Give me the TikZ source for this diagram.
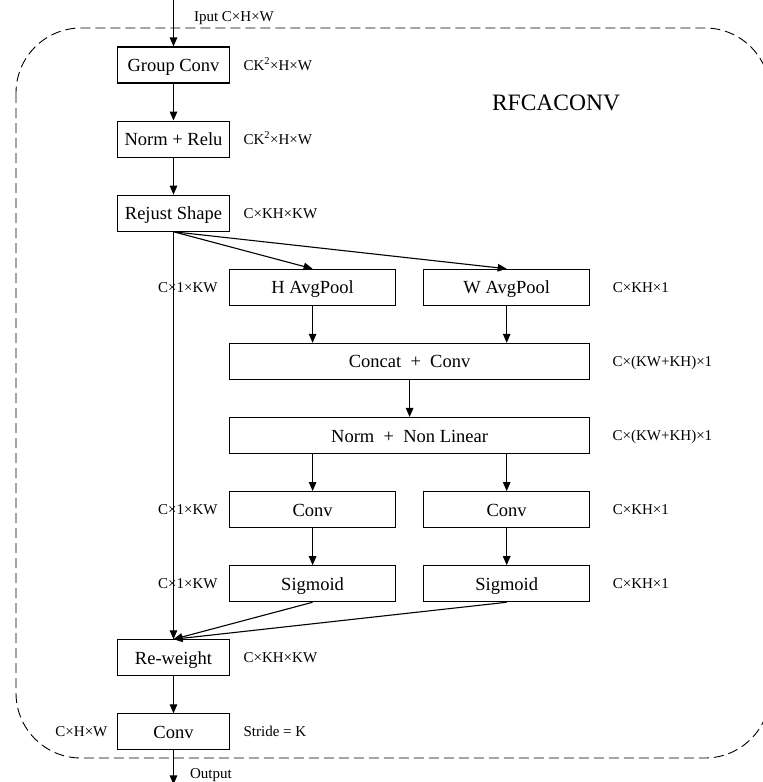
\documentclass[tikz,border=0pt]{standalone}
\usepackage{fontspec}
\setmainfont{Liberation Serif}
\usetikzlibrary{positioning,arrows.meta}

\begin{document}
\begin{tikzpicture}[
  x=1pt, y=-1pt,
  line width=1.1pt,
  >={Triangle[length=9pt,width=7.5pt]},
  box/.style={draw, minimum height=36pt, inner sep=2pt, text height=13pt, text depth=0pt, font=\fontsize{18.5}{20}\selectfont},
  mainbox/.style={box, minimum width=112pt},
  halfbox/.style={box, minimum width=166pt},
  widebox/.style={box, minimum width=360pt},
  dim/.style={inner sep=0pt, text height=10pt, text depth=0pt, font=\fontsize{15}{16}\selectfont}
]
  \useasboundingbox (0,0) rectangle (763,782);
  \draw[dash pattern=on 10pt off 5pt, line width=0.9pt, rounded corners=65pt] (16,28) rectangle (770,758);
  \node[font=\fontsize{23.5}{26}\selectfont] (title) at (556,103) {RFCACONV};

  % main column
  \node[mainbox] (gconv) at (173.5,65) {Group Conv};
  \node[mainbox, below=37pt of gconv] (nrelu) {Norm + Relu};
  \node[mainbox, below=37pt of nrelu] (rejust) {Rejust Shape};

  % attention branch
  \node[halfbox, below right=37pt and -1pt of rejust] (havg) {H AvgPool};
  \node[halfbox, right=27pt of havg] (wavg) {W AvgPool};
  \node[widebox, below=37pt of havg.south west, anchor=north west] (concat) {Concat\enspace+\enspace Conv};
  \node[widebox, below=37pt of concat] (nnl) {Norm\enspace+\enspace Non Linear};
  \node[halfbox, below=37pt of nnl.south west, anchor=north west] (convl) {Conv};
  \node[halfbox, right=27pt of convl] (convr) {Conv};
  \node[halfbox, below=37pt of convl] (sigl) {Sigmoid};
  \node[halfbox, below=37pt of convr] (sigr) {Sigmoid};

  \coordinate (rw) at (sigl.south -| rejust.south);
  \node[mainbox, below=37pt of rw] (reweight) {Re-weight};
  \node[mainbox, below=37pt of reweight] (oconv) {Conv};

  % sizes
  \node[dim, right=13pt of gconv] (dgconv) {CK\textsuperscript{2}×H×W};
  \node[dim, right=13pt of nrelu] (dnrelu) {CK\textsuperscript{2}×H×W};
  \node[dim, right=13pt of rejust] (drejust) {C×KH×KW};
  \node[dim, left=11pt of havg] (dhavg) {C×1×KW};
  \node[dim, right=22pt of wavg] (dwavg) {C×KH×1};
  \node[dim, right=22pt of concat] (dconcat) {C×(KW+KH)×1};
  \node[dim, right=22pt of nnl] (dnnl) {C×(KW+KH)×1};
  \node[dim, left=11pt of convl] (dconvl) {C×1×KW};
  \node[dim, right=22pt of convr] (dconvr) {C×KH×1};
  \node[dim, left=11pt of sigl] (dsigl) {C×1×KW};
  \node[dim, right=22pt of sigr] (dsigr) {C×KH×1};
  \node[dim, right=13pt of reweight] (dreweight) {C×KH×KW};
  \node[dim, left=9pt of oconv] (doconvl) {C×H×W};
  \node[dim, right=13pt of oconv] (doconvr) {Stride = K};

  % input / output
  \coordinate[above=47pt of gconv.north] (in);
  \coordinate[below=34pt of oconv.south] (out);
  \node[dim, below right=11pt and 20pt of in] (inlbl) {Iput C×H×W};
  \node[dim, below right=17pt and 16pt of oconv.south] (outlbl) {Output};

  \draw[->] (in) -- (gconv);
  \draw[->] (gconv) -- (nrelu);
  \draw[->] (nrelu) -- (rejust);
  \draw[->] (rejust.south) -- (havg.north);
  \draw[->] (rejust.south) -- (wavg.north);
  \draw[->] (rejust.south) -- (reweight.north);
  \draw[->] (havg) -- (havg |- concat.north);
  \draw[->] (wavg) -- (wavg |- concat.north);
  \draw[->] (concat) -- (nnl);
  \draw[->] (convl |- nnl.south) -- (convl);
  \draw[->] (convr |- nnl.south) -- (convr);
  \draw[->] (convl) -- (sigl);
  \draw[->] (convr) -- (sigr);
  \draw[->] (sigl.south) -- (reweight.north);
  \draw[->] (sigr.south) -- (reweight.north);
  \draw[->] (reweight) -- (oconv);
  \draw[->] (oconv) -- (out);
\end{tikzpicture}
\end{document}
